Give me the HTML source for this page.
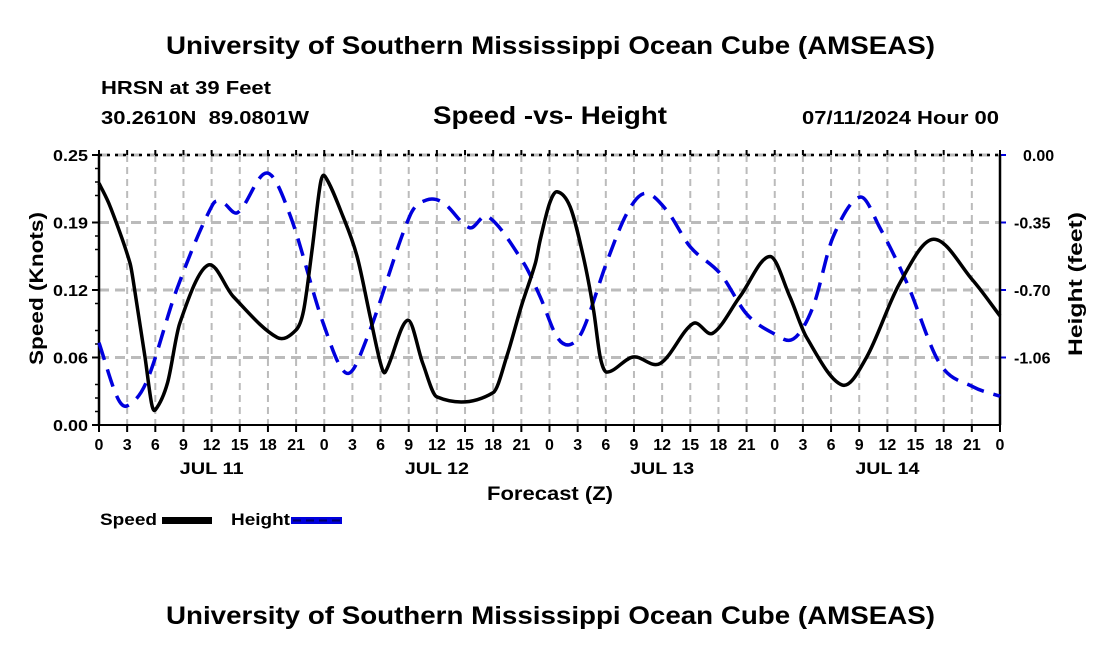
<!DOCTYPE html>
<html><head><meta charset="utf-8"><style>
body{margin:0;background:#fff;}
svg{display:block;font-family:"Liberation Sans",sans-serif;font-weight:bold;}
</style></head><body>
<svg id="c" width="1100" height="650">
<text x="166" y="54" textLength="769" lengthAdjust="spacingAndGlyphs" font-size="25">University of Southern Mississippi Ocean Cube (AMSEAS)</text>
<text x="101" y="94" textLength="170" lengthAdjust="spacingAndGlyphs" font-size="18">HRSN at 39 Feet</text>
<text x="101" y="124" textLength="208" lengthAdjust="spacingAndGlyphs" font-size="18" xml:space="preserve">30.2610N  89.0801W</text>
<text x="433" y="124" textLength="234" lengthAdjust="spacingAndGlyphs" font-size="25">Speed -vs- Height</text>
<text x="802" y="124" textLength="197" lengthAdjust="spacingAndGlyphs" font-size="18">07/11/2024 Hour 00</text>
<text x="166" y="624" textLength="769" lengthAdjust="spacingAndGlyphs" font-size="25">University of Southern Mississippi Ocean Cube (AMSEAS)</text>
<g id="grid"></g>
<g id="axes"></g>
<g id="series"></g>
<text transform="translate(43,212) rotate(-90)" x="-153" textLength="153" lengthAdjust="spacingAndGlyphs" font-size="19">Speed (Knots)</text>
<text transform="translate(1082,212) rotate(-90)" x="-144" textLength="144" lengthAdjust="spacingAndGlyphs" font-size="19">Height (feet)</text>
<text x="487" y="500" textLength="126" lengthAdjust="spacingAndGlyphs" font-size="19">Forecast (Z)</text>
<g>
<text x="100" y="525" textLength="57" lengthAdjust="spacingAndGlyphs" font-size="17">Speed</text>
<rect x="162" y="517" width="50" height="7" fill="#000"/>
<text x="231" y="525" textLength="59" lengthAdjust="spacingAndGlyphs" font-size="17">Height</text>
<rect x="291" y="517" width="51" height="7" fill="#0000dd"/>
<line x1="293" y1="520.5" x2="342" y2="520.5" stroke="#000066" stroke-width="2" stroke-dasharray="8,5"/>
</g>
</svg>
<script>
const speedHours=[0,1.2,3.3,3.8,4.9,5.6,6,7.3,8.6,11.6,14.3,19,21,21.8,22.7,23.6,24.1,26,27.5,28.9,30,30.5,32.9,34.5,36,42,43.5,45,46.5,47,48,48.8,50.2,51.6,52.7,53.4,54.1,56.9,59.8,63.3,65.4,68.3,71.5,73.6,75.4,79.2,81.8,85.3,88.9,93.1,96];
const speedVals=[0.224,0.202,0.150,0.125,0.063,0.020,0.014,0.039,0.094,0.148,0.119,0.081,0.088,0.106,0.162,0.224,0.230,0.193,0.156,0.100,0.057,0.049,0.097,0.057,0.026,0.030,0.065,0.110,0.150,0.171,0.205,0.216,0.202,0.156,0.106,0.063,0.049,0.063,0.057,0.094,0.085,0.119,0.156,0.119,0.081,0.037,0.063,0.131,0.172,0.134,0.101];
const heightHours=[0,1.9,3,5.1,8.3,12.1,13.2,14.8,17.9,20.4,23.9,26.4,28.6,33.1,34.9,36.7,39.5,41.4,45.2,47,48.8,50.2,51.6,54.1,56.3,58.2,60.5,63,66.2,69,71.8,74,76.1,78.2,81.1,83.2,86.1,89.6,93.1,96];
const heightVals=[-0.98,-1.26,-1.31,-1.18,-0.70,-0.26,-0.25,-0.30,-0.094,-0.32,-0.88,-1.14,-0.95,-0.32,-0.235,-0.25,-0.38,-0.32,-0.56,-0.74,-0.95,-0.99,-0.91,-0.56,-0.30,-0.20,-0.29,-0.48,-0.62,-0.83,-0.93,-0.96,-0.79,-0.43,-0.22,-0.38,-0.67,-1.09,-1.21,-1.26];
const leftTicks=[0,0.0625,0.125,0.1875,0.25];
const leftTickLabels=["0.00","0.06","0.12","0.19","0.25"];
const rightTicks=[0,-0.3525,-0.705,-1.0575];
const rightTickLabels=["0.00","-0.35","-0.70","-1.06"];
const dayLabels=["JUL 11","JUL 12","JUL 13","JUL 14"];
const X0=99,X1=1000,Y0=155,Y1=425,HMAX=96,SMAX=0.25,HMIN=-1.41;
const xs=h=>X0+(h/HMAX)*(X1-X0);
const ys=v=>Y1-(v/SMAX)*(Y1-Y0);
const yh=v=>Y0+(v/HMIN)*(Y1-Y0);
const NS="http://www.w3.org/2000/svg";
function mk(tag,attrs,parent){const e=document.createElementNS(NS,tag);for(const k in attrs)e.setAttribute(k,attrs[k]);parent.appendChild(e);return e;}
const grid=document.getElementById('grid'),axes=document.getElementById('axes'),series=document.getElementById('series');
for(let h=3;h<96;h+=3){const l=mk('line',{x1:xs(h),x2:xs(h),y1:Y0,y2:Y1,stroke:'#bbb','stroke-width':2,'stroke-dasharray':'7,5'},grid);

}
leftTicks.forEach((v,i)=>{if(i>0){const l=mk('line',{x1:X0,x2:X1,y1:ys(v),y2:ys(v),stroke:'#bbb','stroke-width':3,'stroke-dasharray':'10,6'},grid);

}
mk('line',{x1:X0-7,x2:X0,y1:ys(v),y2:ys(v),stroke:'#000','stroke-width':2},axes);
const t=mk('text',{x:X0-11,y:ys(v)+6,'text-anchor':'end','font-size':16,textLength:35,lengthAdjust:'spacingAndGlyphs'},axes);t.textContent=leftTickLabels[i];

});
for(let k=0;k<20;k++){if(k%4==0)continue;const y=Y1-(Y1-Y0)*k/20;mk('line',{x1:X0-4,x2:X0,y1:y,y2:y,stroke:'#000','stroke-width':1.5},axes);}
rightTicks.forEach((v,i)=>{mk('line',{x1:X1,x2:X1+6,y1:yh(v),y2:yh(v),stroke:'#0000dd','stroke-width':2},axes);
const t=mk('text',{x:X1+ (i==0?23:14),y:yh(v)+6,'font-size':16},axes);t.textContent=rightTickLabels[i];

});
mk('line',{x1:X0,x2:X0,y1:Y0,y2:Y1,stroke:'#000','stroke-width':2.5},axes);
mk('line',{x1:X1,x2:X1,y1:Y0,y2:Y1,stroke:'#000','stroke-width':2.5},axes);
mk('line',{x1:X0,x2:X1,y1:Y1,y2:Y1,stroke:'#000','stroke-width':2},axes);
mk('line',{x1:X0,x2:X1,y1:Y0,y2:Y0,stroke:'#000','stroke-width':2.5,'stroke-dasharray':'3,5'},axes);
for(let h=0;h<=96;h+=3){mk('line',{x1:xs(h),x2:xs(h),y1:Y1,y2:Y1+7,stroke:'#000','stroke-width':2},axes);
mk('line',{x1:xs(h),x2:xs(h),y1:Y0-5,y2:Y0,stroke:'#000','stroke-width':2},axes);
const t=mk('text',{x:xs(h),y:Y1+25,'text-anchor':'middle','font-size':16},axes);t.textContent=String(h%24);

}
dayLabels.forEach((d,i)=>{const t=mk('text',{x:xs(i*24+12)-32,y:Y1+49,'font-size':17,textLength:64,lengthAdjust:'spacingAndGlyphs'},axes);t.textContent=d;

});
function smooth(pts){const n=pts.length,m=[];
for(let i=0;i<n;i++){const a=pts[Math.max(0,i-1)],b=pts[Math.min(n-1,i+1)];m.push((b[1]-a[1])/(b[0]-a[0]));}
let d=`M${pts[0][0]},${pts[0][1]}`;
for(let i=0;i<n-1;i++){const p=pts[i],q=pts[i+1],dx=(q[0]-p[0])/3;
d+=` C${p[0]+dx},${p[1]+m[i]*dx} ${q[0]-dx},${q[1]-m[i+1]*dx} ${q[0]},${q[1]}`;}return d;}
const hp=mk('path',{d:smooth(heightHours.map((h,i)=>[xs(h),yh(heightVals[i])])),fill:'none',stroke:'#0000dd','stroke-width':3.5,'stroke-dasharray':'18,10'},series);


const sp=mk('path',{d:smooth(speedHours.map((h,i)=>[xs(h),ys(speedVals[i])])),fill:'none',stroke:'#000','stroke-width':3.5},series);


</script>
</body></html>
